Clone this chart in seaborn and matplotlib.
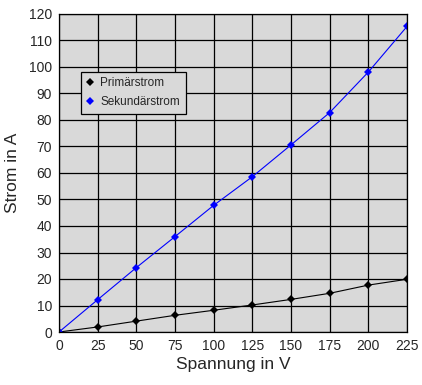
import pandas as pd
import matplotlib.pyplot as plt
import seaborn as sns

# values
spannung = [0, 25, 50, 75, 100, 125, 150, 175, 200, 225]
primaerstrom = [0, 1.9, 4.1, 6.3, 8.2, 10.2, 12.3, 14.6, 17.7, 19.9]
sekundaerstrom = [0, 12.2, 24.3, 36.0, 47.8, 58.6, 70.6, 82.8, 98.1, 115.3]
serien = ["Primärstrom", "Sekundärstrom"]
farben = ["black", "#0000ff"]

df = pd.DataFrame({
    "Spannung": spannung * 2,
    "Strom": primaerstrom + sekundaerstrom,
    "Serie": [serien[0]] * len(spannung) + [serien[1]] * len(spannung),
})

sns.set_style("white")
plt.rcParams["font.family"] = ["Liberation Sans", "DejaVu Sans"]

fig = plt.figure(figsize=(4.22, 3.85), dpi=100)
ax = fig.add_axes([59 / 422, 1 - 332 / 385, 348 / 422, 318 / 385])
ax.set_facecolor("#d9d9d9")

sns.lineplot(data=df, x="Spannung", y="Strom", hue="Serie", palette=farben,
             marker="D", markersize=4, markeredgewidth=0, linewidth=0.8, ax=ax)

ax.set_xlim(0, 225)
ax.set_ylim(0, 120)
ax.set_xticks(spannung)
ax.set_yticks(range(0, 121, 10))
ax.grid(True, color="black", linewidth=0.9)
ax.set_axisbelow(True)
for s in ax.spines.values():
    s.set_color("black")
    s.set_linewidth(0.9)
ax.tick_params(axis="both", labelsize=10, length=3, width=0.9, color="black",
               direction="out", pad=2)
ax.set_xlabel("Spannung in V", fontsize=12.5, labelpad=3)
ax.set_ylabel("Strom in A", fontsize=12.5, labelpad=6)

leg = ax.legend(loc="upper left", bbox_to_anchor=(22 / 348, 1 - 58 / 318),
                borderaxespad=0, frameon=True, fontsize=8.5, handlelength=0.7,
                handletextpad=0.5, borderpad=0.45, labelspacing=0.6,
                fancybox=False, facecolor="#d9d9d9", edgecolor="black",
                framealpha=1)
leg.get_frame().set_linewidth(0.9)
for line in leg.get_lines():
    line.set_linestyle("none")

fig.savefig("out.png", dpi=100)
